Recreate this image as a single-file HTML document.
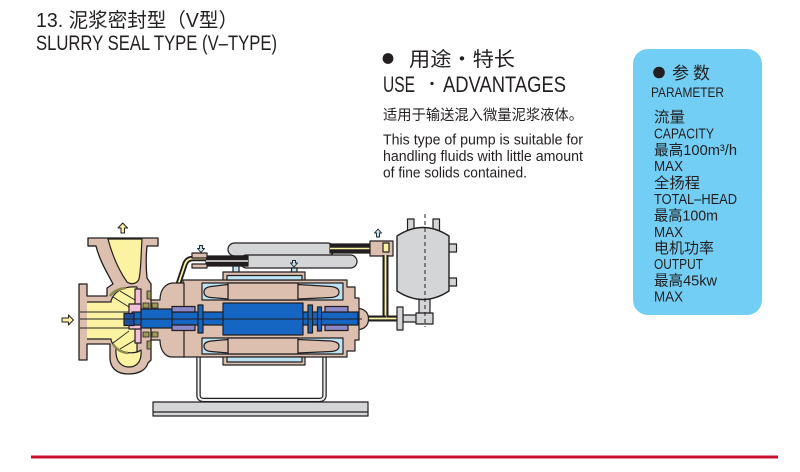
<!DOCTYPE html>
<html><head><meta charset="utf-8">
<style>
html,body{margin:0;padding:0;background:#fff;}
body{width:800px;height:472px;overflow:hidden;position:relative;}
svg{position:absolute;left:0;top:0;}
</style></head><body>
<svg width="800" height="472" viewBox="0 0 800 472" xmlns="http://www.w3.org/2000/svg" font-family="'Liberation Sans','Noto Sans CJK SC',sans-serif" fill="#231f20">
<!-- Titles -->
<text x="36" y="27" font-size="20" textLength="202" lengthAdjust="spacingAndGlyphs">13. 泥浆密封型（V型）</text>
<text x="36" y="50" font-size="21" textLength="241" lengthAdjust="spacingAndGlyphs">SLURRY SEAL TYPE (V–TYPE)</text>

<!-- USE section -->
<circle cx="388" cy="58.5" r="5.4"/>
<text x="409" y="66" font-size="20" textLength="106" lengthAdjust="spacingAndGlyphs">用途・特长</text>
<text x="383" y="92" font-size="22" textLength="32" lengthAdjust="spacingAndGlyphs">USE</text>
<circle cx="432" cy="83.5" r="1.6"/>
<text x="443" y="92" font-size="22" textLength="123" lengthAdjust="spacingAndGlyphs">ADVANTAGES</text>
<text x="383" y="120" font-size="14.5" textLength="200" lengthAdjust="spacingAndGlyphs">适用于输送混入微量泥浆液体。</text>
<text x="383" y="144.5" font-size="14.5" textLength="200" lengthAdjust="spacingAndGlyphs">This type of pump is suitable for</text>
<text x="383" y="161" font-size="14.5" textLength="200" lengthAdjust="spacingAndGlyphs">handling fluids with little amount</text>
<text x="383" y="177.7" font-size="14.5" textLength="144" lengthAdjust="spacingAndGlyphs">of fine solids contained.</text>

<!-- Parameter box -->
<rect x="633" y="49" width="129" height="266" rx="15" ry="15" fill="#72cef4"/>
<circle cx="659" cy="72.5" r="5.8"/>
<text x="672" y="79" font-size="17">参</text>
<text x="693" y="79" font-size="17">数</text>
<text x="651" y="97" font-size="14" textLength="73" lengthAdjust="spacingAndGlyphs">PARAMETER</text>
<g font-size="15">
<text x="654" y="122" textLength="31" lengthAdjust="spacingAndGlyphs">流量</text>
<text x="654" y="138.5" textLength="60" lengthAdjust="spacingAndGlyphs">CAPACITY</text>
<text x="654" y="155" textLength="83" lengthAdjust="spacingAndGlyphs">最高100m³/h</text>
<text x="654" y="171" textLength="29" lengthAdjust="spacingAndGlyphs">MAX</text>
<text x="654" y="188" textLength="46" lengthAdjust="spacingAndGlyphs">全扬程</text>
<text x="654" y="204" textLength="83" lengthAdjust="spacingAndGlyphs">TOTAL–HEAD</text>
<text x="654" y="220.5" textLength="64" lengthAdjust="spacingAndGlyphs">最高100m</text>
<text x="654" y="237" textLength="29" lengthAdjust="spacingAndGlyphs">MAX</text>
<text x="654" y="253" textLength="60" lengthAdjust="spacingAndGlyphs">电机功率</text>
<text x="654" y="269" textLength="49" lengthAdjust="spacingAndGlyphs">OUTPUT</text>
<text x="654" y="285.5" textLength="63" lengthAdjust="spacingAndGlyphs">最高45kw</text>
<text x="654" y="301.5" textLength="29" lengthAdjust="spacingAndGlyphs">MAX</text>
</g>

<!-- Red bottom line -->
<rect x="31" y="455.5" width="747" height="3" fill="#c8102e"/>

<!-- ===== Diagram ===== -->
<g stroke="#231f20" stroke-width="1.2" stroke-linejoin="round">
<!-- base plate -->
<rect x="153" y="402" width="215" height="14" fill="#d3d5d7"/>
<line x1="153" y1="412" x2="368" y2="412"/>
<!-- stand -->
<path d="M198.5,356 V395 Q198.5,400 204,400 H319 Q324.5,400 324.5,395 V356" fill="none" stroke-width="4.5"/>
<path d="M198.5,356 V395 Q198.5,400 204,400 H319 Q324.5,400 324.5,395 V356" fill="none" stroke="#eef0f1" stroke-width="2"/>

<!-- top capsules & pipes -->
<rect x="228" y="243" width="106" height="13" rx="6.5" fill="#d3d5d7"/>
<rect x="240" y="255" width="117" height="13" rx="6.5" fill="#d3d5d7"/>
<rect x="330" y="244" width="54" height="9" fill="#231f20"/>
<line x1="330" y1="248.5" x2="384" y2="248.5" stroke="#fbf3a2" stroke-width="1.4"/>
<rect x="206" y="256" width="42" height="10" fill="#231f20"/>
<line x1="206" y1="261" x2="248" y2="261" stroke="#e8e8e8" stroke-width="1.4"/>
<!-- left curved pipe -->
<path d="M206,258.5 H193 Q187,258.5 185,264 L171,306" fill="none" stroke-width="5.5"/>
<path d="M206,258.5 H193 Q187,258.5 185,264 L171,306" fill="none" stroke="#fbf3a2" stroke-width="1.8"/>
<rect x="192" y="253" width="15" height="5" fill="#dcbfae"/>
<rect x="192" y="264" width="15" height="4" fill="#dcbfae"/>
<polygon points="199.5,245.5 202.5,245.5 202.5,248.5 204.5,248.5 201,252.5 197.5,248.5 199.5,248.5" fill="#bde4f4" stroke-width="0.9"/>

<!-- fitting right top -->
<rect x="370" y="241" width="23" height="15" fill="#dcbfae"/>
<rect x="383" y="243" width="6" height="9" fill="#fbf3a2"/>
<polygon points="378,229 381.5,233 379.5,233 379.5,237 376.5,237 376.5,233 374.5,233" fill="#bde4f4" stroke-width="0.9"/>
<!-- vertical + horizontal pipe -->
<path d="M385.5,255 V318.5 H398" fill="none" stroke-width="6"/>
<path d="M385.5,255 V318.5 H398" fill="none" stroke="#fbf3a2" stroke-width="1.8"/>
<path d="M362,318.5 H386" fill="none" stroke-width="6"/>
<path d="M362,318.5 H386" fill="none" stroke="#fbf3a2" stroke-width="1.8"/>

<!-- tank -->
<rect x="407.5" y="219" width="6.5" height="14" fill="#d3d5d7"/>
<rect x="433" y="219" width="6.5" height="14" fill="#d3d5d7"/>
<rect x="445" y="244" width="11.5" height="8" fill="#d3d5d7"/>
<rect x="445" y="278" width="11.5" height="8" fill="#d3d5d7"/>
<rect x="419" y="296" width="11" height="18" fill="#d3d5d7"/>
<path d="M397,236 Q423,219 449,236 V291 Q423,308 397,291 Z" fill="#d3d5d7" stroke-width="1.4"/>
<rect x="403" y="315" width="14" height="7" fill="#d3d5d7"/>
<rect x="416" y="313" width="17" height="11" fill="#d3d5d7"/>
<rect x="397" y="307" width="6" height="23" fill="#d3d5d7"/>
<line x1="425" y1="214" x2="425" y2="327" stroke-dasharray="4,3" stroke-width="1"/>

<!-- motor top fittings -->
<rect x="233" y="266" width="6" height="7" fill="#bde4f4"/>
<rect x="291.5" y="268" width="5.5" height="6" fill="#bde4f4"/>
<polygon points="292.5,260.5 295.5,260.5 295.5,263 297.5,263 294,267 290.5,263 292.5,263" fill="#bde4f4" stroke-width="0.9"/>

<!-- motor housing -->
<rect x="223" y="272" width="82" height="10" fill="#dcbfae"/>
<rect x="223" y="355" width="82" height="10" fill="#dcbfae"/>
<path d="M357,308 C366,309 368.5,314 368.5,319 C368.5,324 366,329 357,330 Z" fill="#dcbfae"/>
<path d="M183,280 H347 V287 H355 V298 H359 V340 H355 V351 H347 V357 H183 V348 H179 V339 H176 V300 H179 V291 H183 Z" fill="#dcbfae"/>
<rect x="227" y="275.5" width="75" height="4.5" fill="#bde4f4"/>
<rect x="227" y="357" width="75" height="5" fill="#bde4f4"/>
<!-- stator chambers -->
<rect x="202" y="283" width="141" height="17" fill="#bde4f4"/>
<rect x="202" y="338" width="141" height="16" fill="#bde4f4"/>
<rect x="228" y="283" width="70" height="17" fill="#dcbfae"/>
<rect x="228" y="338" width="70" height="16" fill="#dcbfae"/>
<path d="M228,284.5 L211,286.5 Q204,287.5 204,292 Q204,297 211,297.5 L228,299 Z" fill="#dcbfae"/>
<path d="M298,284.5 L331,286.5 Q339,287.5 339,292 Q339,297 331,297.5 L298,299 Z" fill="#dcbfae"/>
<path d="M228,339.5 L211,341 Q204,342 204,346 Q204,351 211,351.5 L228,353 Z" fill="#dcbfae"/>
<path d="M298,339.5 L331,341 Q339,342 339,346 Q339,351 331,351.5 L298,353 Z" fill="#dcbfae"/>

<!-- adapter -->
<path d="M150,300 H160 C160,290 165,284 172,283 H184 V357 H172 C165,357 160,350 160,340 H150 Z" fill="#dcbfae"/>

<!-- pump casing -->
<path d="M88,238 H158 V246 H147 C146,256 146,268 147,278 L151,284 V360 L148,363 C146,370 139,374 128,374 C116,374 110,367 110,358 V344 H87 V360 H79 V284 H87 V296 H107 V288 L113,284 C108,274 100,262 96,246 H88 Z" fill="#dcbfae" stroke-width="1.3"/>
<line x1="88" y1="246" x2="96" y2="246"/>
<path d="M108,239 H142 C141,255 141,270 139,279 C137,284 131,285 127,282 C120,272 113,258 108,239 Z" fill="#fbf3a2"/>
<rect x="87" y="302" width="27" height="37" fill="#fbf3a2" stroke="none"/>
<line x1="87" y1="302" x2="112" y2="302"/>
<line x1="87" y1="339" x2="112" y2="339"/>
<path d="M137,287 C124,286 114,291 111,301 V340 C114,350 124,354 137,353 Z" fill="#fbf3a2"/>
<rect x="109" y="302.6" width="6" height="35.8" fill="#fbf3a2" stroke="none"/>
<path d="M116,348 C115,361 121,367 129,367 C137,367 142,361 141,350 C136,354 122,354 116,348 Z" fill="#fbf3a2"/>
<path d="M110,296 Q115,289 126,288" fill="none" stroke="#8d8a4e" stroke-width="2.5"/>
<path d="M113,344 Q118,352 128,353" fill="none" stroke="#8d8a4e" stroke-width="2.5"/>
<!-- impeller -->
<rect x="135" y="289" width="6" height="54" fill="#f2bfd9"/>
<rect x="129" y="304" width="12" height="25" fill="#f2bfd9"/>
<g stroke-width="0.9">
<line x1="80" y1="312" x2="129" y2="312"/>
<line x1="80" y1="328" x2="129" y2="328"/>
<line x1="129" y1="307" x2="113" y2="297"/>
<line x1="129" y1="331" x2="113" y2="343"/>
<line x1="135" y1="300" x2="120" y2="291"/>
<line x1="135" y1="340" x2="120" y2="349"/>
</g>
<!-- seal parts -->
<g fill="#9c9a5a" stroke-width="0.8">
<rect x="143" y="303" width="6" height="5"/>
<rect x="152" y="303" width="6" height="5"/>
<rect x="143" y="332" width="6" height="5"/>
<rect x="152" y="332" width="6" height="5"/>
<rect x="147" y="291" width="4" height="8"/>
<rect x="147" y="341" width="4" height="8"/>
</g>

<!-- shaft & rotor -->
<rect x="132" y="312" width="226" height="13" fill="#1565c3"/>
<rect x="141" y="309" width="31" height="19" fill="#1565c3"/>
<rect x="124" y="313.5" width="10" height="12" fill="#1c4f9e"/>
<rect x="223" y="303" width="80" height="32" fill="#1565c3"/>
<rect x="198" y="305" width="5" height="28" fill="#1565c3"/>
<rect x="308" y="305" width="4.5" height="28" fill="#1565c3"/>
<rect x="317.5" y="307" width="4" height="24" fill="#1565c3"/>
<rect x="172" y="306.5" width="23" height="5.5" fill="#8c87c8"/>
<rect x="172" y="325" width="23" height="5.5" fill="#8c87c8"/>
<rect x="325" y="306.5" width="23" height="5.5" fill="#8c87c8"/>
<rect x="325" y="325" width="23" height="5.5" fill="#8c87c8"/>
<line x1="80" y1="319" x2="362" y2="319" stroke-width="1"/>

<!-- arrows -->
<polygon points="122.7,223 127.5,228 124.5,228 124.5,233 121,233 121,228 118,228" fill="#fbf3a2" stroke-width="1"/>
<polygon points="73.5,320 68.5,315 68.5,318 62,318 62,322 68.5,322 68.5,325" fill="#fbf3a2" stroke-width="1"/>
</g>
</svg>
</body></html>
